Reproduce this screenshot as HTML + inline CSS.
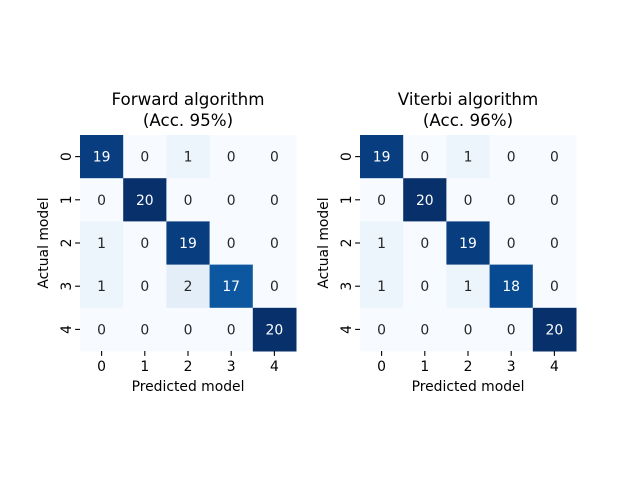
<!DOCTYPE html>
<html><head><meta charset="utf-8"><style>body{margin:0;background:#fff}svg{display:block;font-family:"DejaVu Sans","Liberation Sans",sans-serif}</style></head>
<body>
<svg id="c" width="640" height="480" viewBox="0 0 640 480"></svg>
<script>
const labels=["0","1","2","3","4"];
const titlesA=["Forward algorithm","(Acc. 95%)"];
const titlesB=["Viterbi algorithm","(Acc. 96%)"];
const forwardMatrix=[[19,0,1,0,0],[0,20,0,0,0],[1,0,19,0,0],[1,0,2,17,0],[0,0,0,0,20]];
const viterbiMatrix=[[19,0,1,0,0],[0,20,0,0,0],[1,0,19,0,0],[1,0,1,18,0],[0,0,0,0,20]];
const vmax=20;
const stops=["#f7fbff","#deebf7","#c6dbef","#9ecae1","#6baed6","#4292c6","#2171b5","#08519c","#08306b"];
function hex(h){return [1,3,5].map(i=>parseInt(h.substr(i,2),16));}
function blues(t){t=Math.max(0,Math.min(1,t))*8;const i=Math.min(7,Math.floor(t)),f=t-i;const a=hex(stops[i]),b=hex(stops[i+1]);return "rgb("+a.map((v,k)=>Math.round(v+(b[k]-v)*f)).join(",")+")";}
const svg=document.getElementById('c');const NS="http://www.w3.org/2000/svg";
function el(tag,attrs,txt){const e=document.createElementNS(NS,tag);for(const k in attrs)e.setAttribute(k,attrs[k]);if(txt!==undefined)e.textContent=txt;svg.appendChild(e);return e;}
function panel(x0,mat,titles,id){
 const y0=135,size=216,n=labels.length,cs=size/n;
 const xs=i=>x0+i*cs, ys=j=>y0+j*cs;
 mat.forEach((row,j)=>row.forEach((v,i)=>{
  const r=el('rect',{x:xs(i),y:ys(j),width:cs+0.5,height:cs+0.5,fill:blues(v/vmax)});
  
  
  const t=el('text',{x:xs(i)+cs/2,y:ys(j)+cs/2+5,'text-anchor':'middle','font-size':'13.9',fill:v/vmax>0.5?'#fff':'#262626'},String(v));
  
  
 }));
 labels.forEach((l,i)=>{
  el('line',{x1:xs(i)+cs/2,x2:xs(i)+cs/2,y1:y0+size,y2:y0+size+4.9,stroke:'#000','stroke-width':1.1});
  const tx=el('text',{x:xs(i)+cs/2,y:y0+size+20,'text-anchor':'middle','font-size':'13.9'},l);
  
  
  el('line',{x1:x0-4.9,x2:x0,y1:ys(i)+cs/2,y2:ys(i)+cs/2,stroke:'#000','stroke-width':1.1});
  const ty=el('text',{x:0,y:0,'text-anchor':'middle','font-size':'13.9',transform:`translate(${x0-9},${ys(i)+cs/2}) rotate(-90)`},l);
  
  
 });
 const xl=el('text',{x:x0+size/2,y:391,'text-anchor':'middle','font-size':'13.9'},'Predicted model');
 
 
 const yl=el('text',{x:0,y:0,'text-anchor':'middle','font-size':'13.9',transform:`translate(${x0-32},${y0+size/2}) rotate(-90)`},'Actual model');
 
 
 titles.forEach((s,k)=>{const t=el('text',{x:x0+size/2,y:105+k*21,'text-anchor':'middle','font-size':'16.7'},s);
  
  });
}
panel(80,forwardMatrix,titlesA,'forward');
panel(360,viterbiMatrix,titlesB,'viterbi');
</script>
</body></html>
